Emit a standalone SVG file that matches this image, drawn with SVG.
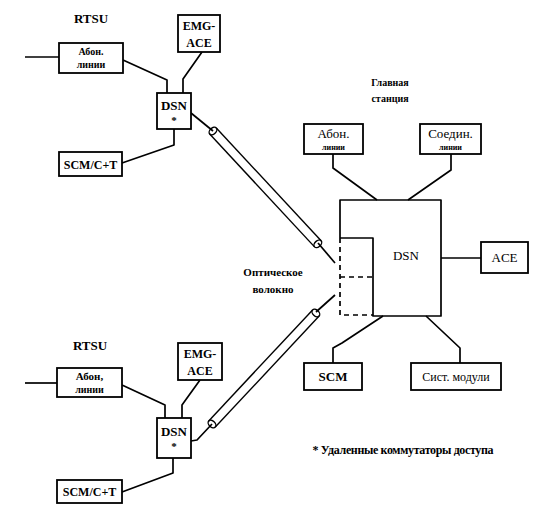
<svg xmlns="http://www.w3.org/2000/svg" width="546" height="521" viewBox="0 0 546 521">
<style>
.box{fill:#fff;stroke:#000;stroke-width:1.8}
.ln{fill:none;stroke:#000;stroke-width:1.7;stroke-linejoin:round}
.dash{fill:none;stroke:#000;stroke-width:1.7;stroke-dasharray:5 4}
.t{fill:#000;text-anchor:middle}
.b{font-weight:bold}
.tube{fill:none;stroke:#000;stroke-width:1.4}
</style>
<rect width="546" height="521" fill="#fff"/>

<g id="connectors">
  <line class="ln" x1="25" y1="57" x2="59" y2="57"/>
  <polyline class="ln" points="123,60 167,80 167,93"/>
  <polyline class="ln" points="202,52 183,79 183,93"/>
  <polyline class="ln" points="174,129 174,145 122,163"/>
  <line class="ln" x1="191" y1="113" x2="213" y2="131"/>
  <line class="ln" x1="318" y1="243" x2="335" y2="263"/>
  <line class="ln" x1="25" y1="383" x2="57" y2="383"/>
  <polyline class="ln" points="122,385 165,405 165,418"/>
  <polyline class="ln" points="200,380 182,405 182,418"/>
  <polyline class="ln" points="173,458 173,473 122,492"/>
  <polyline class="ln" points="191,441 197,440 212,424"/>
  <line class="ln" x1="316" y1="312" x2="335" y2="295"/>
  <polyline class="ln" points="333,154 333,168 377,200"/>
  <polyline class="ln" points="451,154 451,170 408,200"/>
  <line class="ln" x1="441" y1="258" x2="481" y2="258"/>
  <polyline class="ln" points="383,316 342,343 333,348 333,363"/>
  <polyline class="ln" points="426,316 460,348 460,363"/>
  <g transform="translate(213,131) rotate(47.1)">
    <line class="tube" x1="0" y1="-4.5" x2="154" y2="-4.5"/>
    <line class="tube" x1="0" y1="4.5" x2="154" y2="4.5"/>
    <ellipse class="tube" cx="0" cy="0" rx="3" ry="4.5"/>
    <ellipse class="tube" cx="154" cy="0" rx="3" ry="4.5"/>
  </g>
  <g transform="translate(212,424) rotate(-46.9)">
    <line class="tube" x1="0" y1="-4.5" x2="152" y2="-4.5"/>
    <line class="tube" x1="0" y1="4.5" x2="152" y2="4.5"/>
    <ellipse class="tube" cx="0" cy="0" rx="3" ry="4.5"/>
    <ellipse class="tube" cx="152" cy="0" rx="3" ry="4.5"/>
  </g>
</g>

<g font-family="Liberation Serif, Times New Roman, serif">
<text class="t b" x="91" y="23" font-size="13">RTSU</text>
<g id="abon-top">
  <rect class="box" x="59" y="43" width="64" height="30"/>
  <text class="t b" x="91" y="55" font-size="10">Абон.</text>
  <text class="t b" x="91" y="68" font-size="10">линии</text>
</g>
<g id="emg-top">
  <rect class="box" x="178" y="15" width="42" height="37"/>
  <text class="t b" x="199" y="30" font-size="12">EMG-</text>
  <text class="t b" x="199" y="47" font-size="12">ACE</text>
</g>
<g id="dsn-top">
  <rect class="box" x="157" y="93" width="34" height="36"/>
  <text class="t b" x="174" y="110" font-size="13">DSN</text>
  <text class="t b" x="174" y="124" font-size="11">*</text>
</g>
<g id="scm-top">
  <rect class="box" x="59" y="152" width="63" height="24"/>
  <text class="t b" x="90.5" y="168.5" font-size="12">SCM/C+T</text>
</g>

<text class="t b" x="90" y="350" font-size="13">RTSU</text>
<g id="abon-bottom">
  <rect class="box" x="57" y="368" width="65" height="29"/>
  <text class="t b" x="89.5" y="380" font-size="11">Абон,</text>
  <text class="t b" x="89.5" y="393" font-size="10">линии</text>
</g>
<g id="emg-bottom">
  <rect class="box" x="178" y="343" width="44" height="37"/>
  <text class="t b" x="200" y="358" font-size="12">EMG-</text>
  <text class="t b" x="200" y="375" font-size="12">ACE</text>
</g>
<g id="dsn-bottom">
  <rect class="box" x="157" y="418" width="34" height="40"/>
  <text class="t b" x="174" y="436" font-size="13">DSN</text>
  <text class="t b" x="174" y="450" font-size="11">*</text>
</g>
<g id="scm-bottom">
  <rect class="box" x="57" y="480" width="65" height="23"/>
  <text class="t b" x="89.5" y="496" font-size="12">SCM/C+T</text>
</g>

<text class="t b" x="390" y="86" font-size="10">Главная</text>
<text class="t b" x="390" y="102" font-size="10">станция</text>
<g id="abon-main">
  <rect class="box" x="304" y="124" width="59" height="30"/>
  <text class="t" x="333.5" y="138" font-size="13">Абон.</text>
  <text class="t b" x="333.5" y="150" font-size="8">линии</text>
</g>
<g id="soed-main">
  <rect class="box" x="420" y="124" width="61" height="30"/>
  <text class="t" x="450.5" y="138" font-size="13">Соедин.</text>
  <text class="t b" x="450.5" y="150" font-size="8">линии</text>
</g>
<g id="dsn-main">
  <polyline class="ln" points="340,238 340,200 441,200 441,316 373,316 373,238 340,238"/>
  <polyline class="dash" points="340,238 340,315 373,315"/>
  <line class="dash" x1="340" y1="277" x2="373" y2="277"/>
  <text class="t" x="406" y="260" font-size="13">DSN</text>
</g>
<g id="ace-main">
  <rect class="box" x="481" y="242" width="47" height="31"/>
  <text class="t" x="504.5" y="262" font-size="13">ACE</text>
</g>
<g id="scm-main">
  <rect class="box" x="304" y="363" width="58" height="27"/>
  <text class="t b" x="333" y="381" font-size="13">SCM</text>
</g>
<g id="sys-main">
  <rect class="box" x="411" y="363" width="90" height="27"/>
  <text class="t" x="456" y="381" font-size="12">Сист. модули</text>
</g>

<text class="t b" x="273" y="276" font-size="11">Оптическое</text>
<text class="t b" x="273" y="293" font-size="11">волокно</text>
<text class="t b" x="403" y="454" font-size="12" textLength="181">* Удаленные коммутаторы доступа</text>
</g>
</svg>
